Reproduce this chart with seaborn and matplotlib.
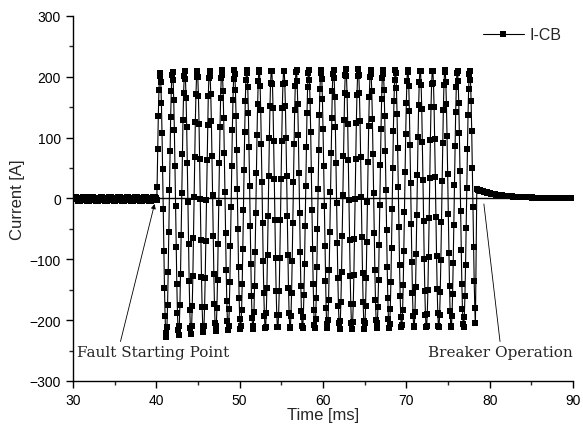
import numpy as np
import pandas as pd
import matplotlib
matplotlib.use("Agg")
import matplotlib.pyplot as plt
import seaborn as sns

# ---- data ----
x_ticks = [30, 40, 50, 60, 70, 80, 90]
y_ticks = [-300, -200, -100, 0, 100, 200, 300]
series_name = "I-CB"

dt = 0.074                 # sample step [ms]
pre_start, pre_end = 30.0, 40.1
pre_amp, pre_period, pre_offset = 4.0, 1.05, -1.0

fault_start, fault_end = 40.1, 78.35
fault_first_peak = 40.45
fault_period = 1.486
pos_peaks = [207, 209, 209, 210, 210, 211, 211, 212, 212, 212, 212, 212, 212,
             212, 212, 212, 212, 212, 212, 212, 212, 212, 212, 212, 211, 210]
neg_peaks = [-228, -224, -222, -220, -218, -216, -215, -215, -214, -214, -214,
             -214, -214, -214, -214, -214, -214, -213, -213, -213, -213, -213,
             -213, -213, -212, -212]

post_start, post_end = 78.45, 90.0
post_init, post_tau, post_floor = 15.0, 2.5, 0.5

# ---- build sampled waveform from the read parameters ----
t_pre = np.arange(pre_start, pre_end, dt)
i_pre = pre_offset + pre_amp * np.sin(2 * np.pi * (t_pre - pre_start) / pre_period)

t_f = np.arange(fault_start, fault_end, dt)
ph = (t_f - fault_first_peak) / fault_period
k = np.clip(np.floor(ph + 0.25).astype(int), 0, len(pos_peaks) - 1)
c = np.cos(2 * np.pi * ph)
i_f = np.where(c >= 0, c * np.array(pos_peaks)[k], -c * np.array(neg_peaks)[k])

t_post = np.arange(post_start, post_end + dt, dt)
i_post = post_floor + post_init * np.exp(-(t_post - post_start) / post_tau)

df = pd.DataFrame({
    "Time": np.concatenate([t_pre, t_f, t_post]),
    "Current": np.concatenate([i_pre, i_f, i_post]),
})
df["series"] = series_name

# ---- plot ----
sns.set_style("ticks")
plt.rcParams["font.family"] = ["Liberation Sans", "DejaVu Sans"]

fig = plt.figure(figsize=(5.83, 4.27), dpi=100)
ax = fig.add_axes([0.125, 0.1054, 0.858, 0.855])

ax.axhline(0, color="black", lw=1.0, zorder=1)
sns.lineplot(data=df, x="Time", y="Current", hue="series", palette=["black"],
             marker="s", markersize=3.8, markeredgewidth=0, linewidth=0.8,
             sort=False, estimator=None, ax=ax, zorder=2)

ax.set_xlim(30, 90)
ax.set_ylim(-300, 300)
ax.set_xticks(x_ticks)
ax.set_yticks(y_ticks)
ax.set_xticks(np.arange(35, 90, 10), minor=True)
ax.set_yticks(np.arange(-250, 300, 100), minor=True)
ax.tick_params(which="major", direction="out", length=5, width=1, labelsize=10,
               colors="black")
ax.tick_params(which="minor", direction="out", length=3, width=1)
for s in ["left", "bottom"]:
    ax.spines[s].set_linewidth(1.0)
    ax.spines[s].set_color("black")
sns.despine(ax=ax)
ax.set_xlabel("Time [ms]", fontsize=12, labelpad=0)
ax.set_ylabel("Current [A]", fontsize=12, labelpad=3)

leg = ax.legend(loc="upper right", frameon=False, fontsize=11.5, handlelength=2.6,
                handletextpad=0.3, borderaxespad=0.2, bbox_to_anchor=(0.995, 0.995))

serif = ["DejaVu Serif"]
ax.annotate("Fault Starting Point", xy=(39.8, -9), xytext=(30.5, -252),
            fontsize=11, family=serif, va="center", ha="left",
            arrowprops=dict(arrowstyle="-|>", lw=0.6, color="black",
                            mutation_scale=7, shrinkA=0, shrinkB=0,
                            relpos=(0.28, 1.0)))
ax.annotate("Breaker Operation", xy=(79.3, -9), xytext=(72.6, -252),
            fontsize=11, family=serif, va="center", ha="left",
            arrowprops=dict(arrowstyle="-", lw=0.6, color="black",
                            shrinkA=0, shrinkB=0, relpos=(0.5, 1.0)))

fig.savefig("out.png", dpi=100)
